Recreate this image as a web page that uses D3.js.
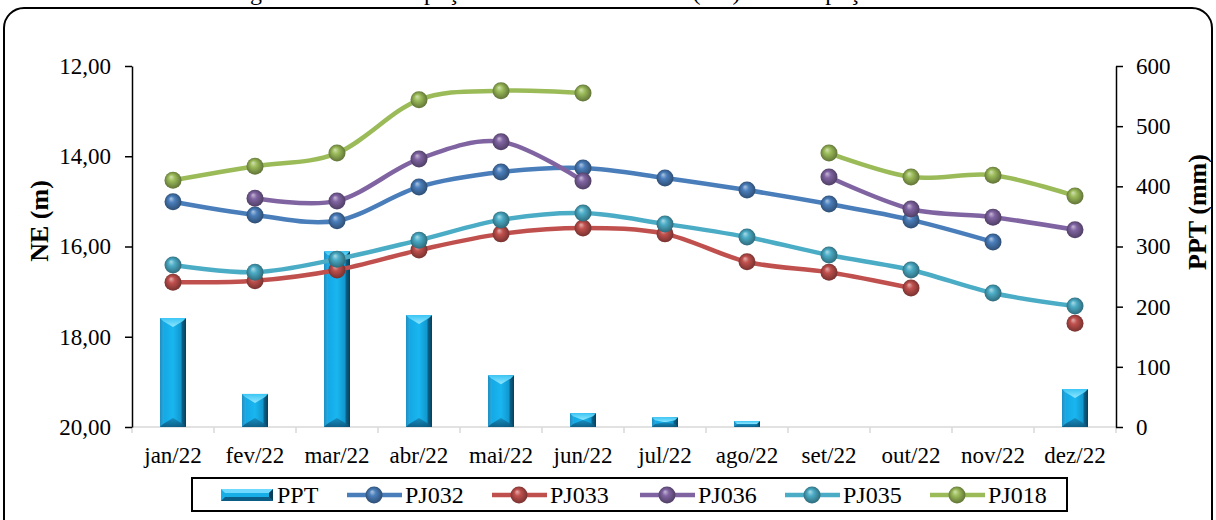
<!DOCTYPE html>
<html>
<head>
<meta charset="utf-8">
<script src="https://cdn.jsdelivr.net/npm/d3@7"></script>
<style>
  html, body { margin: 0; padding: 0; background: #fff; }
  svg { display: block; }
  text { font-family: "Liberation Serif", "Times New Roman", serif; fill: #000; }
</style>
</head>
<body>
<svg id="chart" width="1216" height="520"></svg>
<script>
// Monthly categories
const months = ["jan/22", "fev/22", "mar/22", "abr/22", "mai/22", "jun/22",
                "jul/22", "ago/22", "set/22", "out/22", "nov/22", "dez/22"];

// Monthly rainfall (mm)
const ppt = [181, 55, 292, 186, 86, 23, 16, 10, 0, 0, 0, 63];

// Static level (m) per well; null = no reading
const pj032 = [15.01, 15.30, 15.43, 14.68, 14.35, 14.26, 14.48, 14.75, 15.06, 15.41, 15.90, null];
const pj033 = [16.79, 16.76, 16.52, 16.08, 15.72, 15.59, 15.72, 16.34, 16.57, 16.92, null, 17.70];
const pj036 = [null, 14.93, 14.99, 14.06, 13.68, 14.55, null, null, 14.46, 15.17, 15.35, 15.63];
const pj035 = [16.41, 16.57, 16.28, 15.86, 15.41, 15.26, 15.50, 15.79, 16.19, 16.52, 17.03, 17.32];
const pj018 = [14.53, 14.22, 13.93, 12.75, 12.55, 12.60, null, null, 13.93, 14.46, 14.42, 14.88];

const leftTicks = [12, 14, 16, 18, 20];
const rightTicks = [0, 100, 200, 300, 400, 500, 600];

const series = [
  { name: "PJ032", values: pj032, color: "#4a7ebb" },
  { name: "PJ033", values: pj033, color: "#c0504d" },
  { name: "PJ036", values: pj036, color: "#8064a2" },
  { name: "PJ035", values: pj035, color: "#4bacc6" },
  { name: "PJ018", values: pj018, color: "#9bbb59" }
];

const svg = d3.select("#chart");
const defs = svg.append("defs");

const plot = { left: 132, right: 1116, top: 66, bottom: 427 };

const x = d3.scaleBand().domain(months).range([plot.left, plot.right]);
const yL = d3.scaleLinear().domain([12, 20]).range([plot.top, plot.bottom]);
const yR = d3.scaleLinear().domain([0, 600]).range([plot.bottom, plot.top]);

// Caption line sitting above the frame, running off the top edge
svg.append("text")
  .attr("x", 230).attr("y", -0.5)
  .style("font-size", "24px")
  .text("Figura 4 – Nível do poço e nível estático médio (NE) de cada poço");

// Rounded frame
svg.append("rect")
  .attr("x", 4).attr("y", 8).attr("width", 1208).attr("height", 540)
  .attr("rx", 20).attr("ry", 20)
  .attr("fill", "none").attr("stroke", "#000").attr("stroke-width", 2);

// ---------- gradients ----------
const barGrad = defs.append("linearGradient").attr("id", "barBody")
  .attr("x1", "0").attr("x2", "1").attr("y1", "0").attr("y2", "0");
[["0%", "#1b8fc4"], ["14%", "#2aa8dd"], ["16%", "#14a9e6"], ["50%", "#19b6f0"],
 ["80%", "#1298cf"], ["86%", "#0c5f86"], ["100%", "#083e58"]]
  .forEach(([o, c]) => barGrad.append("stop").attr("offset", o).attr("stop-color", c));

const topGrad = defs.append("linearGradient").attr("id", "barTop")
  .attr("x1", "0").attr("x2", "0").attr("y1", "0").attr("y2", "1");
topGrad.append("stop").attr("offset", "0%").attr("stop-color", "#3cc6f5");
topGrad.append("stop").attr("offset", "100%").attr("stop-color", "#8fe6ff");

const botGrad = defs.append("linearGradient").attr("id", "barBot")
  .attr("x1", "0").attr("x2", "0").attr("y1", "0").attr("y2", "1");
botGrad.append("stop").attr("offset", "0%").attr("stop-color", "#1687b8");
botGrad.append("stop").attr("offset", "100%").attr("stop-color", "#0b5378");

function sphereGradient(id, color) {
  const c = d3.color(color);
  const g = defs.append("radialGradient").attr("id", id)
    .attr("cx", "50%").attr("cy", "50%").attr("r", "55%")
    .attr("fx", "38%").attr("fy", "30%");
  g.append("stop").attr("offset", "0%").attr("stop-color", d3.interpolateRgb(color, "#fff")(0.55));
  g.append("stop").attr("offset", "35%").attr("stop-color", c.formatHex());
  g.append("stop").attr("offset", "85%").attr("stop-color", c.darker(1.1).formatHex());
  g.append("stop").attr("offset", "100%").attr("stop-color", c.darker(1.6).formatHex());
}
series.forEach(s => sphereGradient("sph-" + s.name, s.color));

// ---------- beveled bar ----------
function drawBar(g, x0, y0, w, h) {
  if (h <= 0) return;
  const x1 = x0 + w, y1 = y0 + h, xc = x0 + w / 2;
  const b = Math.min(9, h / 2);
  g.append("rect").attr("x", x0).attr("y", y0).attr("width", w).attr("height", h)
    .attr("fill", "url(#barBody)");
  g.append("path")
    .attr("d", `M${x0},${y0}L${x1},${y0}L${x1 - 3},${y0 + 3}L${xc},${y0 + b}L${x0 + 3},${y0 + 3}Z`)
    .attr("fill", "url(#barTop)");
  g.append("path")
    .attr("d", `M${x0},${y1}L${x1},${y1}L${x1 - 3},${y1 - 3}L${xc},${y1 - b}L${x0 + 3},${y1 - 3}Z`)
    .attr("fill", "url(#barBot)").attr("opacity", 0.85);
}

// ---------- x axis ----------
const xAxisG = svg.append("g");
xAxisG.append("line")
  .attr("x1", plot.left).attr("x2", plot.right)
  .attr("y1", plot.bottom).attr("y2", plot.bottom)
  .attr("stroke", "#d9d9d9").attr("stroke-width", 1.5);
const bounds = months.map(m => x(m)).concat([x(months[months.length - 1]) + x.bandwidth()]);
xAxisG.selectAll("line.tk").data(bounds).join("line").attr("class", "tk")
  .attr("x1", d => d).attr("x2", d => d)
  .attr("y1", plot.bottom).attr("y2", plot.bottom + 6)
  .attr("stroke", "#d9d9d9").attr("stroke-width", 1.5);
xAxisG.selectAll("text").data(months).join("text")
  .attr("x", d => x(d) + x.bandwidth() / 2)
  .attr("y", 463)
  .attr("text-anchor", "middle")
  .style("font-size", "23px")
  .text(d => d);

// ---------- bars (secondary axis) ----------
const barW = 26;
const barsG = svg.append("g");
months.forEach((m, i) => {
  const v = ppt[i];
  const top = yR(v);
  drawBar(barsG, x(m) + x.bandwidth() / 2 - barW / 2, top, barW, yR(0) - top);
});

// ---------- left axis ----------
const leftAxis = d3.axisLeft(yL).tickValues(leftTicks).tickSize(7).tickSizeOuter(0)
  .tickPadding(14).tickFormat(d => d3.format(".2f")(d).replace(".", ","));
const gl = svg.append("g").attr("transform", `translate(${plot.left},0)`).call(leftAxis);
gl.select(".domain").attr("stroke", "#000").attr("stroke-width", 1.5);
gl.selectAll(".tick line").attr("stroke", "#000").attr("stroke-width", 1.5);
gl.selectAll(".tick text").style("font-size", "23px")
  .style("font-family", '"Liberation Serif", serif').attr("fill", "#000");

// ---------- right axis ----------
const rightAxis = d3.axisRight(yR).tickValues(rightTicks).tickSize(7).tickSizeOuter(0)
  .tickPadding(13).tickFormat(d3.format("d"));
const gr = svg.append("g").attr("transform", `translate(${plot.right},0)`).call(rightAxis);
gr.select(".domain").attr("stroke", "#000").attr("stroke-width", 1.5);
gr.selectAll(".tick line").attr("stroke", "#000").attr("stroke-width", 1.5);
gr.selectAll(".tick text").style("font-size", "23px")
  .style("font-family", '"Liberation Serif", serif').attr("fill", "#000");

// ---------- axis titles ----------
svg.append("text")
  .attr("transform", "translate(48,221) rotate(-90)")
  .attr("text-anchor", "middle")
  .style("font-size", "26px").style("font-weight", "bold")
  .text("NE (m)");
svg.append("text")
  .attr("transform", "translate(1206,212) rotate(-90)")
  .attr("text-anchor", "middle")
  .style("font-size", "26px").style("font-weight", "bold")
  .text("PPT (mm)");

// ---------- level lines ----------
const cx = i => x(months[i]) + x.bandwidth() / 2;
const line = d3.line()
  .defined(d => d.v !== null)
  .x(d => cx(d.i))
  .y(d => yL(d.v))
  .curve(d3.curveCardinal.tension(0));

const linesG = svg.append("g");
series.forEach(s => {
  const pts = s.values.map((v, i) => ({ v, i }));
  linesG.append("path")
    .attr("d", line(pts))
    .attr("fill", "none")
    .attr("stroke", s.color)
    .attr("stroke-width", 4.5)
    .attr("stroke-linecap", "round");
});
series.forEach(s => {
  const pts = s.values.map((v, i) => ({ v, i })).filter(d => d.v !== null);
  linesG.selectAll(null).data(pts).join("circle")
    .attr("cx", d => cx(d.i))
    .attr("cy", d => yL(d.v))
    .attr("r", 8.5)
    .attr("fill", `url(#sph-${s.name})`);
});

// ---------- legend ----------
const lg = svg.append("g");
lg.append("rect").attr("x", 192).attr("y", 478).attr("width", 875).attr("height", 33)
  .attr("fill", "#fff").attr("stroke", "#000").attr("stroke-width", 2);
const legY = 495;
// PPT swatch: a flattened beveled bar
(function () {
  const x0 = 221, x1 = 273, y0 = legY - 6, y1 = legY + 6;
  lg.append("rect").attr("x", x0).attr("y", y0).attr("width", x1 - x0).attr("height", y1 - y0)
    .attr("fill", "#17aee8");
  lg.append("path").attr("d", `M${x0},${y0}L${x1},${y0}L${x1 - 4},${y0 + 4}L${x0 + 4},${y0 + 4}Z`).attr("fill", "#6fd9ff");
  lg.append("path").attr("d", `M${x0},${y1}L${x1},${y1}L${x1 - 4},${y1 - 4}L${x0 + 4},${y1 - 4}Z`).attr("fill", "#0b5d86");
  lg.append("path").attr("d", `M${x1},${y0}L${x1},${y1}L${x1 - 4},${y1 - 4}L${x1 - 4},${y0 + 4}Z`).attr("fill", "#083e58");
  lg.append("text").attr("x", 277).attr("y", legY + 8).style("font-size", "24px").text("PPT");
})();
const legX = [347, 492, 640, 785, 930];
series.forEach((s, i) => {
  const x0 = legX[i];
  lg.append("line").attr("x1", x0).attr("x2", x0 + 55).attr("y1", legY).attr("y2", legY)
    .attr("stroke", s.color).attr("stroke-width", 4.5);
  lg.append("circle").attr("cx", x0 + 27).attr("cy", legY).attr("r", 8.5)
    .attr("fill", `url(#sph-${s.name})`);
  lg.append("text").attr("x", x0 + 58).attr("y", legY + 8).style("font-size", "24px").text(s.name);
});
</script>
</body>
</html>
